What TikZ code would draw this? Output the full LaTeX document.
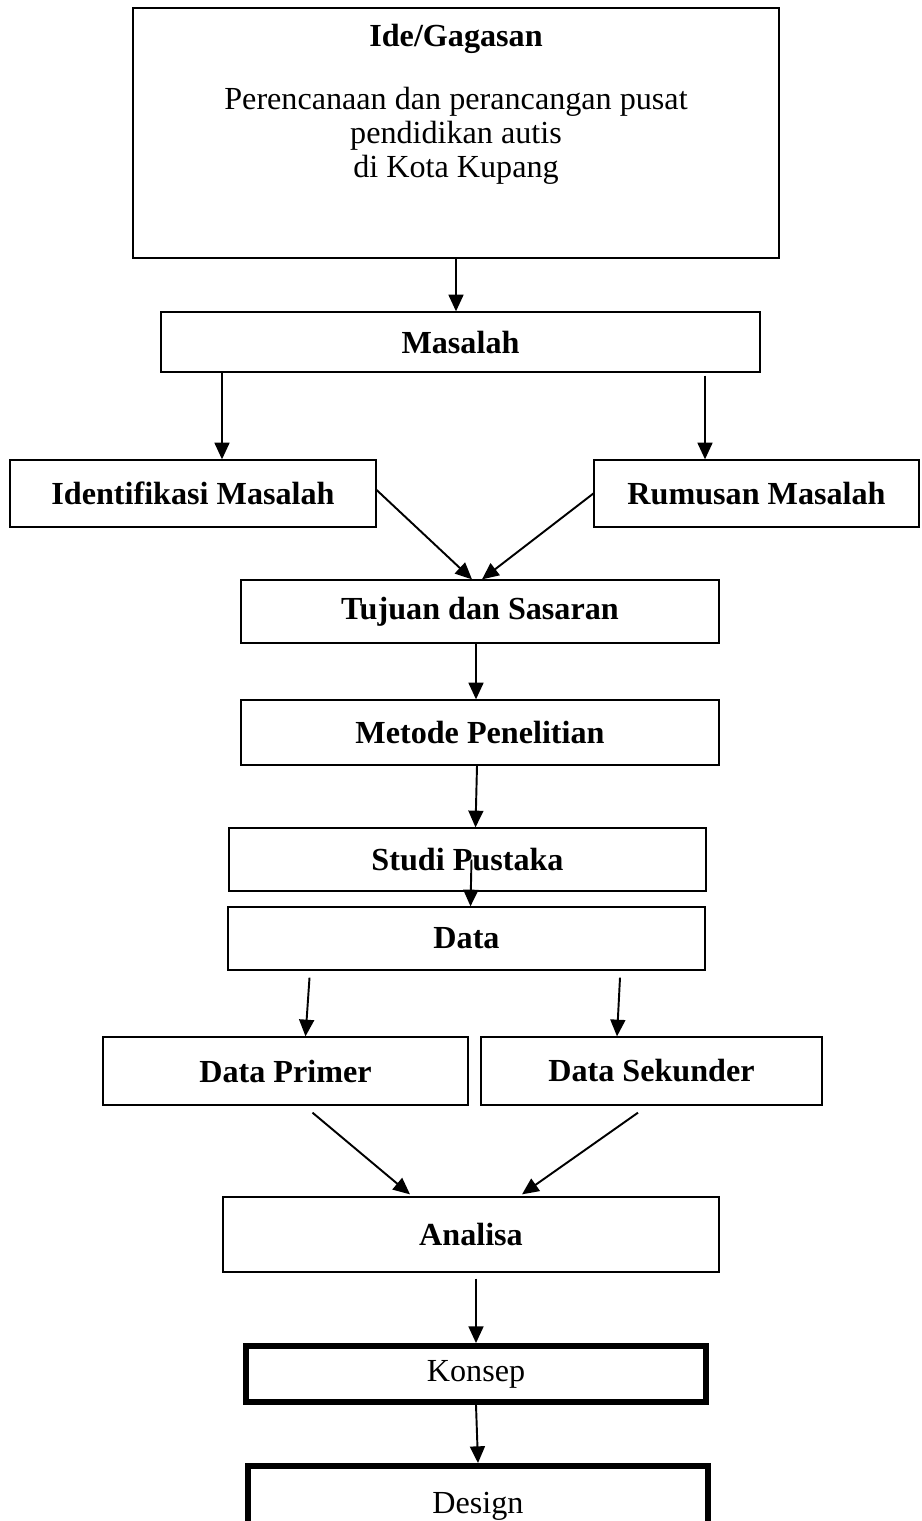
\documentclass[tikz,border=0pt]{standalone}
\usepackage{fontspec}
\setmainfont{Liberation Serif}
\usetikzlibrary{calc, positioning, arrows.meta}

\begin{document}
\begin{tikzpicture}[x=0.02cm, y=-0.02cm, >={Triangle[length=9.5pt, width=8.5pt]},
    every node/.style={font=\fontsize{18.3}{19.5}\selectfont}]
  \tikzset{block/.style={draw, line width=0.75pt, align=center, inner sep=0pt, font=\fontsize{18.3}{19.5}\selectfont\bfseries},
           heavy/.style={draw, line width=3.4pt, align=center, inner sep=0pt},
           link/.style={->, line width=1.1pt}}
  \useasboundingbox (0,0) rectangle (921,1521);
  \clip (0,0) rectangle (921,1521);

  % idea box with its text at the top
  \node[draw, line width=0.75pt, minimum width=12.92cm, minimum height=5cm] (ide) at (456,133) {};
  \node[font=\fontsize{18.3}{19.5}\selectfont\bfseries, below=0.22cm of ide.north] (ideTitle) {Ide/Gagasan};
  \node[below=0.41cm of ideTitle, align=center] (ideText) {Perencanaan dan perancangan pusat\\pendidikan autis\\di Kota Kupang};

  \node[block, minimum width=11.98cm, minimum height=1.2cm] (masalah) at (460.5,342) {Masalah};
  \node[block, minimum width=7.32cm, minimum height=1.34cm] (ident) at (193,493.5) {Identifikasi Masalah};
  \node[block, minimum width=6.5cm, minimum height=1.34cm] (rumus) at (756.5,493.5) {Rumusan Masalah};
  \node[block, minimum width=9.56cm, minimum height=1.26cm] (tujuan) at (480,611.5) {Tujuan dan Sasaran};
  \node[block, minimum width=9.56cm, minimum height=1.3cm] (metode) at (480,732.5) {Metode Penelitian};
  \node[block, minimum width=9.54cm, minimum height=1.26cm] (studi) at (467.5,859.5) {Studi Pustaka};
  \node[block, minimum width=9.54cm, minimum height=1.26cm] (data) at (466.5,938.5) {Data};
  \node[block, minimum width=7.3cm, minimum height=1.36cm] (primer) at (285.5,1071) {Data Primer};
  \node[block, minimum width=6.82cm, minimum height=1.36cm] (sekunder) at (651.5,1071) {Data Sekunder};
  \node[block, minimum width=9.92cm, minimum height=1.5cm] (analisa) at (471,1234.5) {Analisa};
  \node[heavy, minimum width=9.2cm, minimum height=1.12cm] (konsep) at (476,1374) {Konsep};
  \node[heavy, minimum width=9.2cm, minimum height=1.6cm] (design) at (478,1506) {Design};

  \draw[link] (ide.south) -- (ide.south |- masalah.north);
  \draw[link] ($(masalah.south -| ident.north)+(29,0)$) -- ($(ident.north)+(29,0)$);
  \draw[link] ($(masalah.south -| rumus.north)+(-51.5,3)$) -- ($(rumus.north)+(-51.5,0)$);
  \draw[link] ($(ident.east)+(0,-3.5)$) -- ($(tujuan.north)+(-8,0)$);
  \draw[link] (rumus.west) -- ($(tujuan.north)+(2,0)$);
  \draw[link] ($(tujuan.south)+(-4,0)$) -- ($(metode.north)+(-4,0)$);
  \draw[link] ($(metode.south)+(-3,0)$) -- ($(studi.north)+(8,0)$);
  \draw[link] ($(studi.center)+(4,0)$) -- ($(data.north)+(4,0)$);
  \draw[link] ($(data.south -| primer.north)+(24,7)$) -- ($(primer.north)+(20,0)$);
  \draw[link] ($(data.south -| sekunder.north)+(-31.5,7)$) -- ($(sekunder.north)+(-34.5,0)$);
  \draw[link] ($(primer.south)+(27,7)$) -- ($(analisa.north)+(-61,-2)$);
  \draw[link] ($(sekunder.south)+(-13.5,7)$) -- ($(analisa.north)+(51,-2)$);
  \draw[link] ($(analisa.south)+(5,6)$) -- (konsep.north);
  \draw[link] (konsep.south) -- (design.north);
\end{tikzpicture}
\end{document}
